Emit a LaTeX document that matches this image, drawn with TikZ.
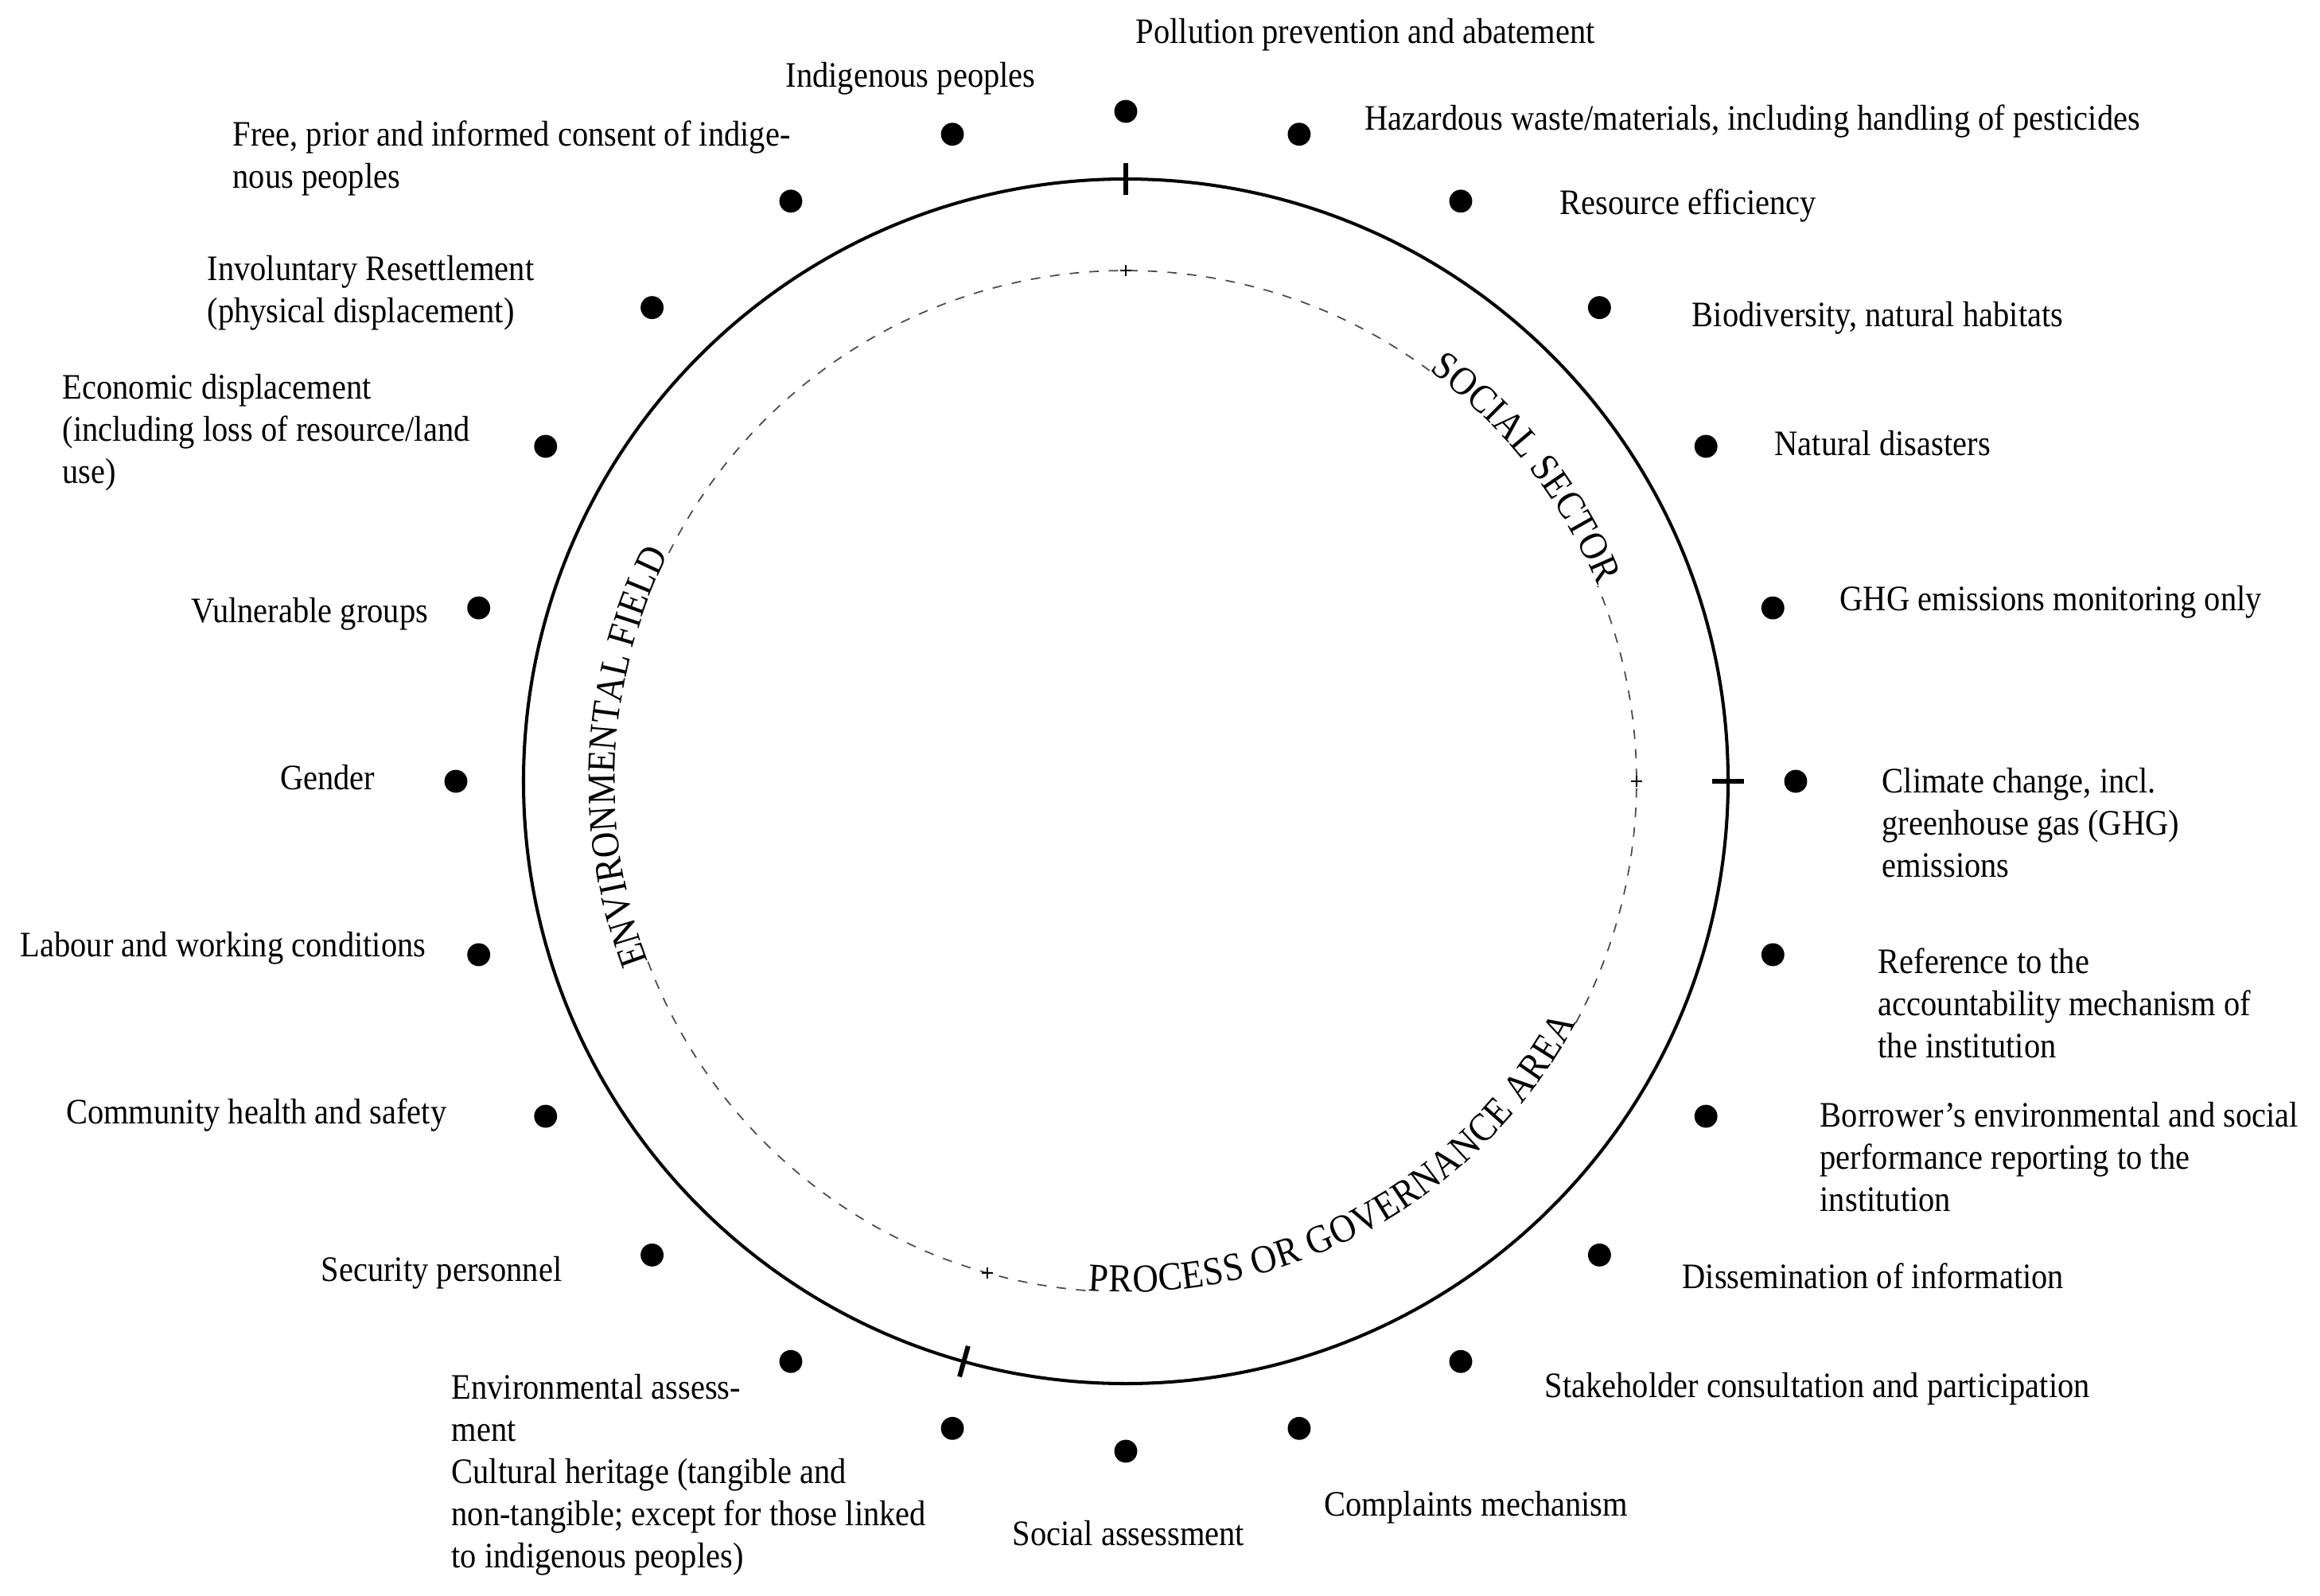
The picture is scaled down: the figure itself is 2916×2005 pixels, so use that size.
\documentclass[tikz,border=0pt]{standalone}
\usepackage{fontspec}
\setmainfont{Liberation Serif}
\newfontfamily\labfam[FakeStretch=0.9]{Liberation Serif}
\usetikzlibrary{decorations.text}
\newcommand{\mylabfont}{\labfam\fontsize{12.8pt}{15pt}\selectfont}
\newcommand{\mycurvefont}{\labfam\fontsize{14.2pt}{17pt}\selectfont}
\begin{document}
\begin{tikzpicture}[x=0.01cm,y=0.01cm,
  dot/.style={circle,fill=black,inner sep=0pt,minimum size=8.2pt},
  lab/.style={font=\mylabfont,inner sep=0pt,align=left,anchor=base west},
  labr/.style={font=\mylabfont,inner sep=0pt,align=right,anchor=base east},
  ring/.style={line width=1.15pt},
  tickmark/.style={line width=1.7pt},
  plusmark/.style={line width=0.55pt},
  guide/.style={line width=0.5pt,black!70,dash pattern=on 3.4pt off 3.6pt},
  curved/.style={decorate,decoration={text along path,text align={fit to path}}}]
\useasboundingbox (-1415,-1023) rectangle (1501,982);
\coordinate (c) at (0,0);
% main ring
\draw[ring] (c) circle[radius=757];
% ticks on the ring
\foreach \a in {90,0,254.4}{
  \draw[tickmark] (\a:737) -- (\a:777);
}
% dashed inner circle (broken where the curved texts sit)
\draw[guide] (53.5:642) arc[start angle=53.5,end angle=153.9,radius=642];
\draw[guide] (200.7:642) arc[start angle=200.7,end angle=265.8,radius=642];
\draw[guide] (331.8:642) arc[start angle=331.8,end angle=382.5,radius=642];
% plus marks on the dashed circle
\foreach \a in {90,0,254.3}{
  \draw[plusmark] (\a:642) ++(-7,0) -- ++(14,0);
  \draw[plusmark] (\a:642) ++(0,-7) -- ++(0,14);
}
% curved sector texts
\path[curved,decoration={text={|\mycurvefont|SOCIAL SECTOR}}]
  (53.5:642) arc[start angle=53.5,end angle=22.5,radius=642];
\path[curved,decoration={text={|\mycurvefont|ENVIRONMENTAL FIELD}}]
  (200.7:642) arc[start angle=200.7,end angle=153.9,radius=642];
\path[curved,decoration={text={|\mycurvefont|PROCESS OR GOVERNANCE AREA}}]
  (265.8:642) arc[start angle=265.8,end angle=331.8,radius=642];
% dots
\foreach \i in {0,...,23}{
  \node[dot] (d\i) at ({90-15*\i}:842) {};
}
% labels (multi-line nodes are placed by the baseline of their last line)
\node[lab] (l0) at (12,927) {Pollution prevention and abatement};
\node[lab] (l1) at (300,819) {Hazardous waste/materials, including handling of pesticides};
\node[lab] (l2) at (545,713) {Resource efficiency};
\node[lab] (l3) at (711,572) {Biodiversity, natural habitats};
\node[lab] (l4) at (815,410) {Natural disasters};
\node[lab] (l5) at (897,215) {GHG emissions monitoring only};
\node[lab] (l6) at (950,-120) {Climate change, incl.\\greenhouse gas (GHG)\\emissions};
\node[lab] (l7) at (945,-347) {Reference to the\\accountability mechanism of\\the institution};
\node[lab] (l8) at (872,-540) {Borrower’s environmental and social\\performance reporting to the\\institution};
\node[lab] (l9) at (699,-637) {Dissemination of information};
\node[lab] (l10) at (526,-774) {Stakeholder consultation and participation};
\node[lab] (l11) at (249,-923) {Complaints mechanism};
\node[lab] (l12) at (-143,-960) {Social assessment};
\node[lab] (l13) at (-848,-988) {Cultural heritage (tangible and\\non-tangible; except for those linked\\to indigenous peoples)};
\node[lab] (l14) at (-848,-829) {Environmental assess-\\ment};
\node[labr] (l15) at (-708,-628) {Security personnel};
\node[labr] (l16) at (-853,-430) {Community health and safety};
\node[labr] (l17) at (-879,-220) {Labour and working conditions};
\node[labr] (l18) at (-943,-10) {Gender};
\node[labr] (l19) at (-876,200) {Vulnerable groups};
\node[lab] (l20) at (-1337,375) {Economic displacement\\(including loss of resource/land\\use)};
\node[lab] (l21) at (-1155,577) {Involuntary Resettlement\\(physical displacement)};
\node[lab] (l22) at (-1123,746) {Free, prior and informed consent of indige-\\nous peoples};
\node[lab] (l23) at (-428,873) {Indigenous peoples};
\end{tikzpicture}
\end{document}
